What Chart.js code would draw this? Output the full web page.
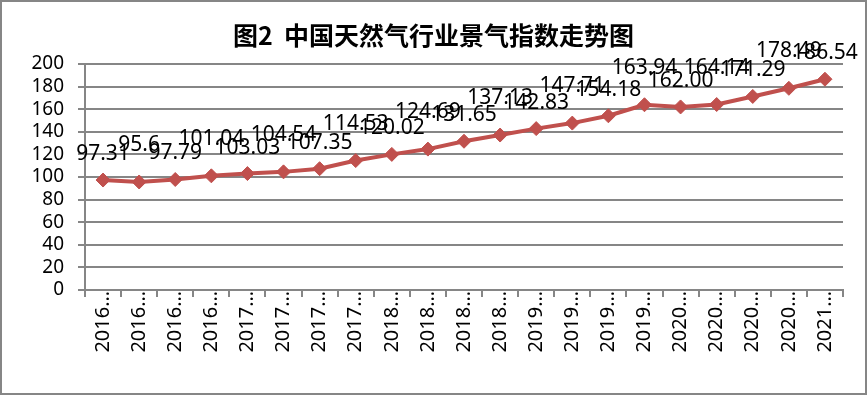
<!DOCTYPE html>
<html>
<head>
<meta charset="utf-8">
<script src="https://cdn.jsdelivr.net/npm/chart.js@4/dist/chart.umd.min.js"></script>
<style>
  body { margin: 0; background: #fff; }
  #wrap { width: 867px; height: 395px; box-sizing: border-box; border: 2px solid #868686; background: #fff; }
  canvas { display: block; }
</style>
</head>
<body>
<div id="wrap"><canvas id="c" width="863" height="391"></canvas></div>
<script>
// data
const categories = [
  '2016…', '2016…', '2016…', '2016…',
  '2017…', '2017…', '2017…', '2017…',
  '2018…', '2018…', '2018…', '2018…',
  '2019…', '2019…', '2019…', '2019…',
  '2020…', '2020…', '2020…', '2020…',
  '2021…'
];
const indexValues = [
  97.31, 95.6, 97.79, 101.04, 103.03, 104.54, 107.35, 114.53, 120.02, 124.69, 131.65,
  137.13, 142.83, 147.71, 154.18, 163.94, 162.00, 164.14, 171.29, 178.49, 186.54
];
const valueLabels = [
  '97.31', '95.6', '97.79', '101.04', '103.03', '104.54', '107.35', '114.53', '120.02', '124.69', '131.65',
  '137.13', '142.83', '147.71', '154.18', '163.94', '162.00', '164.14', '171.29', '178.49', '186.54'
];
const yMin = 0, yMax = 200, yStep = 20;
const chartTitle = '图2  中国天然气行业景气指数走势图';

const gray = '#868686';

// labels above the points, staggered like the original
const pointLabels = {
  id: 'pointLabels',
  afterDatasetsDraw(chart) {
    const ctx = chart.ctx;
    const meta = chart.getDatasetMeta(0);
    ctx.save();
    ctx.font = '21px "Noto Sans"';
    ctx.fillStyle = '#000';
    ctx.textAlign = 'center';
    ctx.textBaseline = 'middle';
    meta.data.forEach((pt, i) => {
      const lift = i % 2 ? 37 : 26;
      ctx.fillText(valueLabels[i], pt.x, pt.y - lift);
    });
    ctx.restore();
  }
};

new Chart(document.getElementById('c'), {
  type: 'line',
  data: {
    labels: categories,
    datasets: [{
      data: indexValues,
      borderColor: '#C0504D',
      backgroundColor: '#C0504D',
      borderWidth: 4,
      pointStyle: 'rectRot',
      pointRadius: 7,
      pointBorderWidth: 1,
      tension: 0
    }]
  },
  options: {
    responsive: false,
    animation: false,
    layout: { padding: 0 },
    plugins: {
      legend: { display: false },
      tooltip: { enabled: false },
      title: {
        display: true,
        text: chartTitle,
        color: '#000',
        font: { family: '"Noto Sans CJK SC"', size: 25, weight: 'bold', lineHeight: 1.2 },
        padding: { top: 18, bottom: 14 }
      }
    },
    scales: {
      x: {
        offset: true,
        grid: { offset: true, drawOnChartArea: false, drawTicks: true, tickLength: 7, color: gray, lineWidth: 2 },
        border: { display: true, color: gray, width: 2 },
        ticks: {
          color: '#000',
          font: { family: '"Noto Sans"', size: 20 },
          minRotation: 90,
          maxRotation: 90,
          autoSkip: false,
          padding: -6
        },
        afterFit(s) { s.height = 103; }
      },
      y: {
        min: yMin,
        max: yMax,
        grid: { color: gray, lineWidth: 2, tickLength: 7 },
        border: { display: true, color: gray, width: 2 },
        ticks: {
          stepSize: yStep,
          autoSkip: false,
          color: '#000',
          font: { family: '"Noto Sans"', size: 19 },
          padding: 14
        },
        afterFit(s) { s.width = 83; }
      },
      pad: {
        position: 'right',
        display: true,
        grid: { display: false },
        border: { display: false },
        ticks: { display: false },
        afterFit(s) { s.width = 22; }
      }
    }
  },
  plugins: [pointLabels]
});
</script>
</body>
</html>
